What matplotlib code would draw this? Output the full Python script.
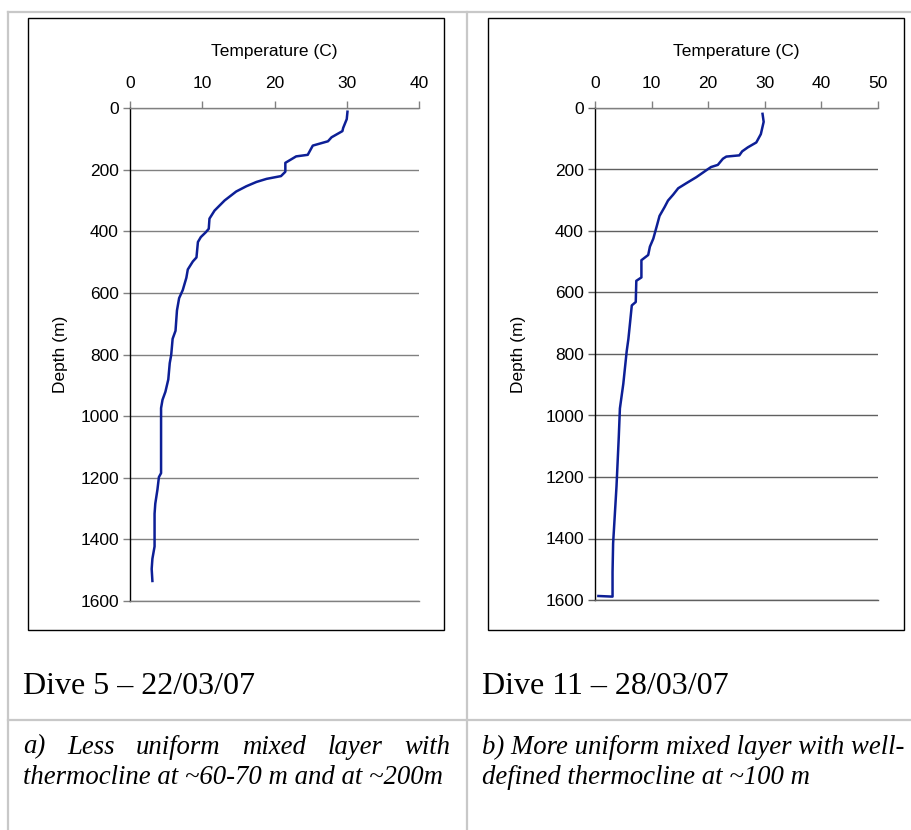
import matplotlib
matplotlib.use("Agg")
import matplotlib.pyplot as plt
from matplotlib.lines import Line2D
from matplotlib.patches import Rectangle

# ---------------- data ----------------
dive5_temp = [30.1, 30.0, 29.5, 29.4, 27.9, 27.4, 25.3, 24.6, 23.0, 21.5, 21.5, 20.9,
              18.9, 17.5, 16.1, 14.7, 13.1, 11.7, 11.0, 10.9, 10.5, 9.8, 9.4, 9.2,
              8.7, 8.0, 7.8, 7.3, 6.8, 6.5, 6.3, 5.9, 5.7, 5.5, 5.3, 4.9, 4.5, 4.3,
              4.3, 4.3, 4.0, 3.8, 3.5, 3.4, 3.4, 3.1, 3.0, 3.1]
dive5_depth = [12, 36, 65, 75, 95, 108, 122, 152, 157, 178, 207, 221,
               230, 240, 254, 271, 300, 333, 359, 392, 403, 419, 435, 485,
               498, 524, 551, 591, 617, 657, 723, 749, 802, 828, 881, 921, 947, 974,
               1013, 1185, 1198, 1238, 1284, 1317, 1423, 1463, 1496, 1535]

dive11_temp = [29.6, 29.8, 29.3, 28.5, 27.0, 26.0, 25.5, 23.2, 22.6, 21.7, 20.5, 19.7,
               17.9, 16.1, 14.7, 13.8, 12.9, 12.3, 11.4, 10.9, 10.3, 9.7, 9.4, 8.2,
               8.2, 7.3, 7.2, 6.5, 6.2, 5.9, 5.6, 5.3, 5.0, 4.7, 4.4, 4.2, 4.0, 3.8,
               3.5, 3.2, 3.1, 3.1, 0.6]
dive11_depth = [19, 45, 85, 112, 128, 141, 154, 158, 165, 185, 192, 202,
                225, 245, 261, 282, 301, 322, 351, 385, 425, 451, 478, 495,
                551, 562, 631, 642, 697, 751, 791, 844, 897, 937, 977, 1070, 1150, 1230,
                1323, 1416, 1509, 1589, 1587]

dive5_xticks = [0, 10, 20, 30, 40]
dive11_xticks = [0, 10, 20, 30, 40, 50]
depth_ticks = [0, 200, 400, 600, 800, 1000, 1200, 1400, 1600]

x_title = "Temperature (C)"
y_title = "Depth (m)"
captions = ["Dive 5 \u2013 22/03/07", "Dive 11 \u2013 28/03/07"]
desc_left = ["a) Less uniform mixed layer with", "thermocline at ~60-70 m and at ~200m"]
desc_right = ["b) More uniform mixed layer with well-", "defined thermocline at ~100 m"]

# ---------------- layout ----------------
W, H = 911, 830
fig = plt.figure(figsize=(W / 100, H / 100), dpi=100)
fig.patch.set_facecolor("white")

def fx(px):
    return px / W

def fy(py):
    return 1 - py / H

LINE_COLOR = "#0d1f96"
TABLE = "#c8c8c8"

# table lines
for (x0, y0, x1, y1) in [(8, 12, 911, 12), (8, 12, 8, 830), (467, 12, 467, 830), (8, 720, 911, 720)]:
    fig.add_artist(Line2D([fx(x0), fx(x1)], [fy(y0), fy(y1)], color=TABLE, lw=1.6,
                          transform=fig.transFigure))

# chart frames
for (x0, y0, x1, y1) in [(28, 18, 444, 630), (488, 18, 904, 630)]:
    fig.add_artist(Rectangle((fx(x0), fy(y1)), fx(x1) - fx(x0), fy(y0) - fy(y1),
                             fill=False, ec="black", lw=1.0, transform=fig.transFigure))


def make_axis(x0, x1, y0, y1, temps, depths, xticks, xmax, gridcol, ylab_x):
    ax = fig.add_axes([fx(x0), fy(y1), fx(x1) - fx(x0), fy(y0) - fy(y1)])
    ax.plot(temps, depths, color=LINE_COLOR, lw=1.8, solid_joinstyle="round")
    ax.set_xlim(0, xmax)
    ax.set_ylim(1600, 0)
    ax.set_xticks(xticks)
    ax.set_yticks(depth_ticks)
    ax.xaxis.tick_top()
    ax.xaxis.set_label_position("top")
    ax.tick_params(axis="x", direction="out", length=5, width=1, color="#808080",
                   pad=7.5, labelsize=12.5)
    ax.tick_params(axis="y", direction="out", length=5, width=1, color=gridcol,
                   pad=3, labelsize=12.5)
    for lab in ax.get_xticklabels() + ax.get_yticklabels():
        lab.set_fontfamily("Liberation Sans")
    ax.grid(axis="y", color=gridcol, lw=1.0)
    ax.set_axisbelow(True)
    ax.spines["right"].set_visible(False)
    ax.spines["left"].set_color("black")
    ax.spines["left"].set_linewidth(1.0)
    ax.spines["top"].set_color("#808080")
    ax.spines["bottom"].set_color(gridcol)
    ax.spines["top"].set_linewidth(1.0)
    ax.spines["bottom"].set_linewidth(1.0)
    ax.set_xlabel(x_title, fontsize=12.5, fontfamily="Liberation Sans", labelpad=14)
    fig.text(fx(ylab_x), fy((y0 + y1) / 2), y_title, rotation=90, ha="center", va="center",
             fontsize=12.5, fontfamily="Liberation Sans")
    return ax

make_axis(130, 419, 108, 601, dive5_temp, dive5_depth, dive5_xticks, 40, "#808080", 60)
make_axis(595, 878, 108, 600, dive11_temp, dive11_depth, dive11_xticks, 50, "#606060", 519)

# captions
fig.text(fx(23), fy(686), captions[0], fontsize=23, fontfamily="Liberation Serif",
         ha="left", va="center")
fig.text(fx(482), fy(686), captions[1], fontsize=23, fontfamily="Liberation Serif",
         ha="left", va="center")

renderer = fig.canvas.get_renderer()
IT = dict(fontsize=19.3, fontfamily="Liberation Serif", style="italic")


def justified(words, x0, x1, ypx):
    texts = [fig.text(0, fy(ypx), w, ha="left", va="center", **IT) for w in words]
    widths = [t.get_window_extent(renderer).width for t in texts]
    gap = ((x1 - x0) - sum(widths)) / (len(words) - 1)
    x = x0
    for t, w in zip(texts, widths):
        t.set_x(fx(x))
        x += w + gap


justified(desc_left[0].split(" "), 23, 450, 747)
fig.text(fx(23), fy(777), desc_left[1], ha="left", va="center", **IT)
fig.text(fx(482), fy(747), desc_right[0], ha="left", va="center", **IT)
fig.text(fx(482), fy(777), desc_right[1], ha="left", va="center", **IT)

fig.savefig("out.png", dpi=100, facecolor="white")
